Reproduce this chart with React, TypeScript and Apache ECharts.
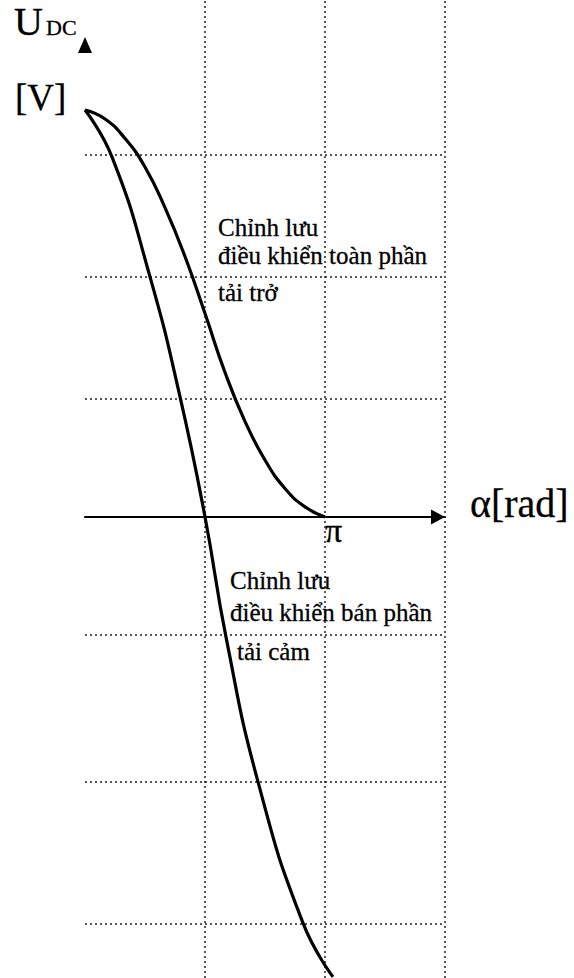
import React, { useEffect, useRef } from "react";
import * as echarts from "echarts";

// alpha in radians, Udc normalised to its maximum
const alphaResistive = [0, 0.262, 0.524, 0.785, 1.047, 1.309, 1.571, 1.833, 2.094, 2.356, 2.618, 2.88, 3.1416];
const udcResistive = [1, 0.978, 0.93, 0.86, 0.76, 0.64, 0.5, 0.355, 0.235, 0.14, 0.07, 0.025, 0];

const alphaInductive = [0, 0.353, 0.851, 1.244, 1.571, 1.846, 2.265, 2.854, 3.246];
const udcInductive = [1, 0.885, 0.59, 0.295, 0, -0.295, -0.651, -0.998, -1.13];

const horizontalGrid = [0.885, 0.59, 0.295, -0.295, -0.651, -0.998];
const verticalGrid = [Math.PI / 2, Math.PI, (3 * Math.PI) / 2];

const xTickValues = [Math.PI];
const xTickLabels = ["π"];

const yAxisTitle = { main: "U", sub: "DC", unit: "[V]" };
const xAxisTitle = "α[rad]";
const noteResistive = ["Chỉnh lưu", "điều khiển toàn phần", "tải trở"];
const noteInductive = ["Chỉnh lưu", "điều khiển bán phần", "tải cảm"];

const FONT = "'Liberation Serif', 'Times New Roman', serif";

export default function App() {
  const ref = useRef<HTMLDivElement>(null);
  useEffect(() => {
    if (!ref.current) return;
    const chart = echarts.init(ref.current, null, { renderer: "svg" });
    const gridLine = { color: "#222", width: 1.5, type: [2, 3] as any };
    const text = (t: string, x: number, baseline: number, size: number) => ({
      type: "text",
      x,
      y: baseline - 0.335 * size,
      style: {
        text: t,
        fontFamily: FONT,
        fontSize: size,
        fill: "#000",
        stroke: "#000",
        lineWidth: 0.3,
        align: "left",
        verticalAlign: "middle",
      },
      z: 20,
    });
    chart.setOption({
      animation: false,
      grid: { left: 85, right: 129, top: 0, bottom: 0, containLabel: false, outerBoundsMode: "none" },
      xAxis: {
        type: "value",
        min: 0,
        max: (3 * Math.PI) / 2,
        interval: Math.PI / 2,
        axisLine: {
          show: true,
          onZero: true,
          symbol: ["none", "triangle"],
          symbolSize: [15, 14],
          symbolOffset: [0, -7],
          lineStyle: { color: "#000", width: 2 },
        },
        axisTick: { show: false },
        splitLine: { show: false },
        axisLabel: { show: false },
      },
      yAxis: {
        type: "value",
        min: -461 / 407,
        max: 517 / 407,
        axisLine: { show: false },
        axisTick: { show: false },
        axisLabel: { show: false },
        splitLine: { show: false },
      },
      series: [
        {
          type: "line",
          data: alphaResistive.map((a, i) => [a, udcResistive[i]]),
          smooth: 0.5,
          showSymbol: false,
          lineStyle: { color: "#000", width: 3.2 },
          z: 5,
          markLine: {
            silent: true,
            symbol: ["none", "none"],
            label: { show: false },
            lineStyle: gridLine,
            z: 1,
            data: [
              ...horizontalGrid.map((v) => ({ yAxis: v })),
              ...verticalGrid.map((v) => ({ xAxis: v })),
            ],
          },
        },
        {
          type: "line",
          data: alphaInductive.map((a, i) => [a, udcInductive[i]]),
          smooth: 0.5,
          showSymbol: false,
          lineStyle: { color: "#000", width: 3.2 },
          z: 5,
        },
      ],
    });
    const px = (v: number[]) => chart.convertToPixel({ xAxisIndex: 0, yAxisIndex: 0 }, v) as number[];
    const o = px([0, 0]);
    const ticks = xTickValues.map((v, i) => {
      const p = px([v, 0]);
      return text(xTickLabels[i], p[0], p[1] + 25, 34);
    });
    chart.setOption({
      graphic: [
        {
          type: "polygon",
          shape: { points: [[o[0], 37], [o[0] - 7, 53], [o[0] + 7, 53]] },
          style: { fill: "#000" },
          z: 20,
        },
        ...ticks,
        text(yAxisTitle.main, 14, 35, 40),
        text(yAxisTitle.sub, 46, 35, 22),
        text(yAxisTitle.unit, 15, 110, 37),
        text(xAxisTitle, 470, 517, 40),
        text(noteResistive[0], 218, 236, 25),
        text(noteResistive[1], 218, 264, 25),
        text(noteResistive[2], 218, 301, 25),
        text(noteInductive[0], 230, 589, 25),
        text(noteInductive[1], 230, 621, 25),
        text(noteInductive[2], 237, 660, 25),
      ],
    });
    return () => chart.dispose();
  }, []);
  return (
    <div
      ref={ref}
      style={{ position: "absolute", left: 0, top: 0, width: 574, height: 978, background: "#fff" }}
    />
  );
}
